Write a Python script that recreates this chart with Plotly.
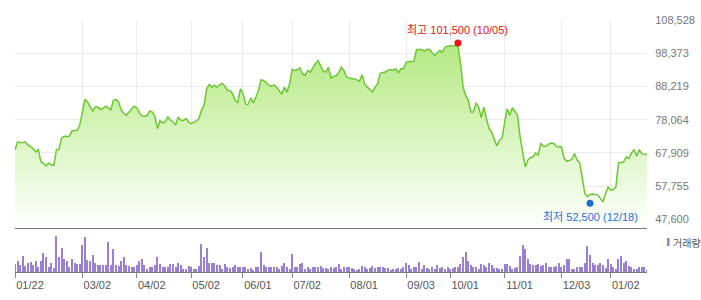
import pandas as pd
import plotly.graph_objects as go

# ---- data ----
start_date = "2018-01-22"
end_date = "2019-01-22"
market_holidays = ["2018-02-15", "2018-02-16", "2018-03-01", "2018-05-01", "2018-05-07",
                   "2018-05-22", "2018-06-06", "2018-06-13", "2018-08-15", "2018-09-24",
                   "2018-09-25", "2018-09-26", "2018-10-03", "2018-10-09", "2018-12-25",
                   "2018-12-31", "2019-01-01"]
dates = [d.strftime("%Y-%m-%d") for d in pd.bdate_range(start_date, end_date)
         if d.strftime("%Y-%m-%d") not in market_holidays]

close_prices = [
    68800, 71300, 71100, 71000, 71300, 70300, 69800, 69200, 68200, 68900,
    65200, 64700, 63900, 64800, 64200, 64100, 68900, 69000, 72500, 73000,
    72900, 73000, 74600, 74700, 74800, 76400, 79900, 84300, 83500, 82100,
    80700, 81900, 81900, 81200, 81500, 82200, 81500, 81100, 84000, 84200,
    83500, 81000, 80000, 79400, 80400, 81400, 82200, 81700, 80200, 79200,
    79100, 79300, 80700, 80400, 79100, 75300, 77700, 77100, 77400, 78900,
    77900, 77400, 76400, 78900, 77900, 77800, 78400, 77400, 76800, 77300,
    77600, 78400, 81000, 82400, 87500, 88800, 88000, 88600, 88000, 88600,
    89200, 88400, 87000, 87000, 86000, 84000, 83200, 87500, 86200, 82800,
    82700, 84700, 83200, 85000, 87000, 90300, 90000, 89300, 88600, 88300,
    88700, 88000, 87000, 85800, 88000, 86500, 89000, 93400, 93100, 93300,
    93900, 92100, 91600, 93100, 92600, 94100, 95200, 96100, 94600, 92900,
    92600, 94100, 90800, 91300, 91500, 92500, 94100, 93100, 91100, 90800,
    90600, 90600, 90100, 89800, 91800, 89000, 88000, 87200, 86500, 88000,
    89000, 92300, 92400, 92600, 93200, 93400, 93100, 93600, 92400, 93600,
    93600, 95600, 95800, 95800, 95900, 99500, 99600, 99500, 99000, 99500,
    99600, 98500, 97700, 98500, 99200, 98700, 100200, 100500, 100500, 100500,
    100500, 100700, 95200, 88000, 85500, 84000, 80400, 80400, 83200, 81900,
    78700, 81900, 78400, 75400, 74300, 71800, 70000, 71800, 72300, 76900,
    81400, 79400, 81700, 80600, 79400, 72800, 67700, 63600, 65700, 66500,
    66700, 67900, 67200, 70900, 69900, 69900, 70600, 70900, 70800, 69900,
    69800, 69700, 66200, 65400, 65600, 65900, 67700, 65700, 64900, 60600,
    55500, 54500, 55200, 55300, 55200, 55000, 54000, 53000, 55500, 57400,
    56500, 56700, 57500, 64900, 65000, 65200, 66700, 66200, 67900, 68900,
    66900, 68900, 67600, 67500, 67400,
]

volumes = [
    25, 34, 22, 49, 17, 28, 31, 20, 34, 14, 34, 58, 46, 16, 28, 12, 109, 46, 73, 38,
    34, 14, 38, 28, 25, 25, 82, 106, 37, 34, 52, 28, 22, 20, 20, 22, 91, 20, 70, 22,
    17, 34, 46, 20, 18, 16, 14, 20, 34, 40, 22, 10, 16, 14, 20, 46, 25, 14, 16, 14,
    25, 25, 14, 28, 20, 8, 10, 19, 14, 8, 10, 19, 85, 46, 73, 28, 28, 28, 20, 22,
    10, 25, 14, 12, 16, 22, 16,
    16, 16, 16, 10, 12, 6, 14, 16, 61, 20, 16, 16, 16, 14, 14, 10, 19, 28, 16, 10,
    55, 14, 14, 25, 28, 8, 14, 10, 14, 14, 14, 17, 12, 12, 10, 16, 12, 16, 25, 8,
    14, 14, 14, 12, 10, 6, 8, 19, 16, 8, 12, 19, 12, 14, 16, 16, 12, 12, 4, 10,
    10, 12, 10, 14, 28, 22, 10, 14, 14, 31, 10, 22, 12, 8, 14, 8, 20, 12, 14, 10,
    14, 10, 12, 14, 16, 25, 46, 61, 34,
    22, 16, 16, 8, 24, 22, 14, 28, 20, 12, 12, 10, 8, 24, 24, 18, 10, 12, 14, 49,
    82, 68, 40, 24, 20, 20, 25, 18, 22, 28, 16, 16, 16, 19, 28, 16, 20, 40, 38, 10,
    10, 16, 16, 16, 28, 79, 52, 28, 22, 22, 28, 22, 12, 40, 24, 16, 10, 40, 49, 26,
    34, 17, 14, 10, 10, 14, 14, 14, 4,
]

high_date, high_value, high_label = "2018-10-05", 101500, "최고 101,500 (10/05)"
low_date, low_value, low_label = "2018-12-18", 52500, "최저 52,500 (12/18)"

tick_dates = ["2018-01-22", "2018-03-02", "2018-04-02", "2018-05-02", "2018-06-01",
              "2018-07-02", "2018-08-01", "2018-09-03", "2018-10-01", "2018-11-01",
              "2018-12-03", "2019-01-02"]
tick_labels = ["01/22", "03/02", "04/02", "05/02", "06/01", "07/02", "08/01", "09/03",
               "10/01", "11/01", "12/03", "01/02"]

price_ticks = [47600, 57755, 67909, 78064, 88219, 98373, 108528]
price_tick_labels = ["47,600", "57,755", "67,909", "78,064", "88,219", "98,373", "108,528"]

volume_legend = "거래량"

# ---- figure ----
FONT = "Liberation Sans, Arial, Noto Sans CJK KR, sans-serif"
LINE = "#6cc832"
PURPLE = "#9a80d0"
y_bottom = 44642

fig = go.Figure()
fig.add_trace(go.Scatter(
    x=dates, y=close_prices, mode="lines", xaxis="x", yaxis="y",
    line=dict(color=LINE, width=1.5),
    fill="tozeroy",
    fillgradient=dict(type="vertical",
                      colorscale=[[0, "#ffffff"], [0.35, "#e4f8d2"], [1, "#b4e982"]],
                      start=y_bottom, stop=101000),
    hoverinfo="skip", showlegend=False,
))
fig.add_trace(go.Scatter(
    x=[high_date], y=[high_value], mode="markers", xaxis="x", yaxis="y",
    marker=dict(color="#ee1111", size=7), showlegend=False, hoverinfo="skip"))
fig.add_trace(go.Scatter(
    x=[low_date], y=[low_value], mode="markers", xaxis="x", yaxis="y",
    marker=dict(color="#1d6fd8", size=7), showlegend=False, hoverinfo="skip"))
fig.add_trace(go.Bar(
    x=dates, y=volumes, xaxis="x2", yaxis="y2",
    marker=dict(color=PURPLE, line=dict(width=0)), width=0.42,
    showlegend=False, hoverinfo="skip"))

fig.add_annotation(x=high_date, y=high_value, xref="x", yref="y", text=high_label,
                   showarrow=False, yshift=13,
                   font=dict(family=FONT, size=11, color="#e31010"))
fig.add_annotation(x=low_date, y=low_value, xref="x", yref="y", text=low_label,
                   showarrow=False, yshift=-14,
                   font=dict(family=FONT, size=11, color="#1d6fd8"))

# volume legend
fig.add_shape(type="rect", xref="paper", yref="paper",
              x0=652 / 632, x1=654.5 / 632, y0=26 / 252, y1=34 / 252,
              fillcolor=PURPLE, line=dict(width=0))
fig.add_annotation(x=656 / 632, y=30 / 252, xref="paper", yref="paper",
                   xanchor="left", yanchor="middle", text=volume_legend, showarrow=False,
                   font=dict(family="Noto Sans CJK KR", size=10, color="#555"))

dom_split = 43 / 252
n = len(dates)
fig.update_layout(
    width=701, height=300,
    margin=dict(l=15, r=54, t=20, b=28, autoexpand=False),
    paper_bgcolor="white", plot_bgcolor="white",
    bargap=0,
    xaxis=dict(domain=[0, 1], anchor="y", type="category", range=[0, n - 1],
               tickmode="array", tickvals=tick_dates, showticklabels=False,
               showgrid=True, gridcolor="#ebebeb", gridwidth=1, ticks="",
               showline=False, zeroline=False, fixedrange=True, automargin=False),
    yaxis=dict(domain=[dom_split, 1], anchor="x", side="right",
               range=[y_bottom, 108528], tickmode="array",
               tickvals=price_ticks, ticktext=price_tick_labels,
               showgrid=True, gridcolor="#ebebeb", gridwidth=1, zeroline=False,
               ticks="outside", ticklen=5, tickcolor="rgba(0,0,0,0)",
               tickfont=dict(family=FONT, size=11, color="#777"), fixedrange=True,
               automargin=False),
    xaxis2=dict(domain=[0, 1], anchor="y2", type="category", range=[0, n - 1],
                tickmode="array", tickvals=tick_dates, ticktext=tick_labels,
                ticks="outside", ticklen=5, tickcolor="#888", tickwidth=1,
                showline=True, linecolor="#777", linewidth=1, mirror=True,
                showgrid=False, zeroline=False, ticklabelshift=15,
                ticklabelstandoff=-2,
                tickfont=dict(family=FONT, size=11, color="#555"), fixedrange=True,
                automargin=False),
    yaxis2=dict(domain=[0, dom_split], anchor="x2", range=[0, 129],
                showticklabels=False, showgrid=False, zeroline=False, ticks="",
                fixedrange=True, automargin=False),
)

fig.write_html("out.html")
